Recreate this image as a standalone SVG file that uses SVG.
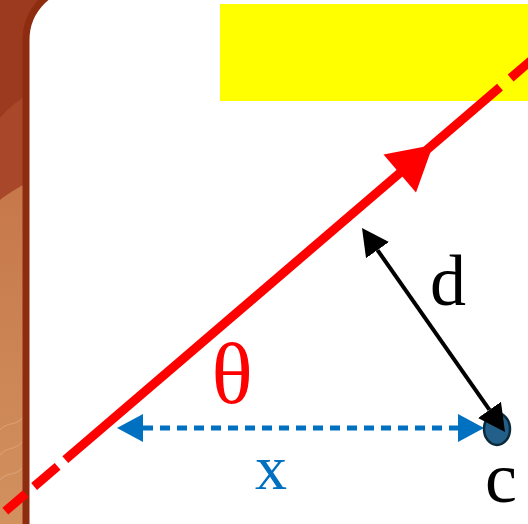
<svg xmlns="http://www.w3.org/2000/svg" width="528" height="524" viewBox="0 0 528 524">
<defs>
<style>
.lbl{font-family:"Liberation Serif","DejaVu Serif",serif;text-anchor:middle}
.red{stroke:#ff0000;stroke-width:9;fill:none}
</style>
<linearGradient id="tan" x1="0" y1="0" x2="0" y2="1">
<stop offset="0" stop-color="#c06a40"/>
<stop offset="1" stop-color="#d2915f"/>
</linearGradient>
<marker id="bh" markerUnits="userSpaceOnUse" markerWidth="30" markerHeight="30" refX="0" refY="14" orient="auto-start-reverse" viewBox="0 0 30 28">
<path d="M0,0 L27,14 L0,28 z" fill="#000"/>
</marker>
<marker id="uh" markerUnits="userSpaceOnUse" markerWidth="28" markerHeight="30" refX="0" refY="14" orient="auto-start-reverse" viewBox="0 0 28 28">
<path d="M0,0 L26,14 L0,28 z" fill="#0070c0"/>
</marker>
</defs>
<g id="background">
<rect x="0" y="0" width="60" height="524" fill="url(#tan)"/>
<path d="M0,0 H60 V170 C40,175 15,188 0,200 Z" fill="#a9472a"/>
<path d="M0,0 H60 V80 C40,85 15,100 0,118 Z" fill="#9c3a1f"/>
<g fill="none" stroke="#e2ad85" stroke-width="1.2" opacity="0.6">
<path d="M0,430 C8,420 14,428 22,418"/>
<path d="M0,455 C8,445 14,452 22,442"/>
<path d="M0,480 C8,470 14,478 22,468"/>
</g>
<rect x="26" y="-15" width="580" height="600" rx="55" ry="55" fill="#ffffff" stroke="#8e2c10" stroke-width="7"/>
</g>
<g id="label-box">
<rect x="220" y="4" width="308" height="97" fill="#ffff00"/>
</g>
<g id="connectors">
<line class="red" x1="5.3" y1="511.2" x2="25.8" y2="493.6"/>
<line class="red" x1="34.1" y1="486.5" x2="57.6" y2="466.3"/>
<line class="red" x1="65.3" y1="459.7" x2="500" y2="87.1"/>
<line class="red" x1="510.6" y1="78" x2="535" y2="57.1"/>
<polygon points="433,145 416,192.5 383.5,154.5" fill="#ff0000"/>
<line x1="143" y1="428" x2="458" y2="428" stroke="#0070c0" stroke-width="5" stroke-dasharray="10 7" marker-start="url(#uh)" marker-end="url(#uh)"/>
</g>
<g id="node-c">
<ellipse cx="497" cy="429" rx="13" ry="16" fill="#236089" stroke="#0d2a3a" stroke-width="2.5"/>
</g>
<g id="connector-d">
<line x1="377.5" y1="250.1" x2="489.5" y2="409.9" stroke="#000" stroke-width="4" marker-start="url(#bh)" marker-end="url(#bh)"/>
</g>
<g id="labels">
<text class="lbl" x="448" y="305" font-size="72" fill="#000">d</text>
<text class="lbl" x="232" y="403" font-size="86" fill="#ff0000">θ</text>
<text class="lbl" x="271" y="489" font-size="64" fill="#0070c0">x</text>
<text class="lbl" x="501" y="502" font-size="72" fill="#000">c</text>
</g>
</svg>
